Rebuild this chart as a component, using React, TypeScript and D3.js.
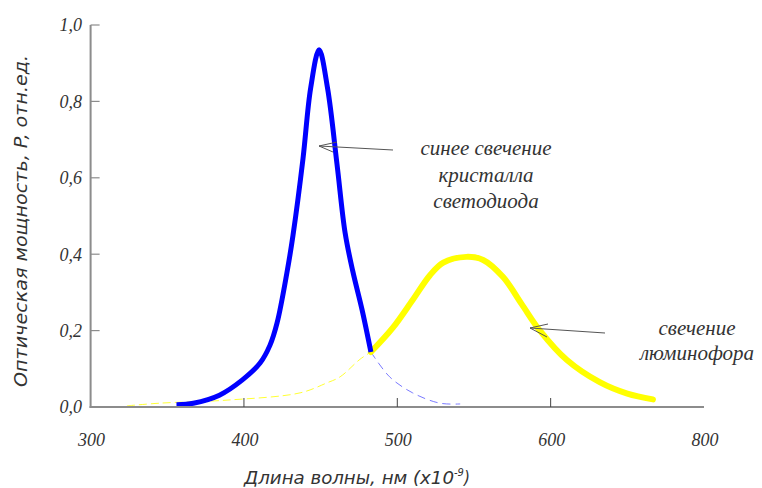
import React from "react";
import * as d3 from "d3";

// ---- data (wavelength nm, relative power) ----
const blueSolidX = [356, 367, 384, 399, 410.5, 417, 421.6, 428, 432, 438.5, 443.5, 449, 454.5, 460.7, 466, 471, 477, 482.8];
const blueSolidY = [0.006, 0.01, 0.031, 0.071, 0.115, 0.162, 0.22, 0.351, 0.45, 0.65, 0.835, 0.935, 0.835, 0.635, 0.455, 0.355, 0.255, 0.144];
const blueTailX = [482.8, 495, 510, 527.8, 541];
const blueTailY = [0.144, 0.079, 0.037, 0.01, 0.008];
const yellowTailX = [323.7, 345, 389, 436.6, 454, 462.7, 475.7, 482.8];
const yellowTailY = [0.003, 0.01, 0.018, 0.037, 0.063, 0.079, 0.125, 0.144];
const yellowSolidX = [482.8, 497, 510, 521.3, 530, 545, 556, 569, 581, 593, 610.6, 632, 650, 666.7];
const yellowSolidY = [0.144, 0.207, 0.28, 0.345, 0.378, 0.393, 0.385, 0.34, 0.27, 0.2, 0.123, 0.065, 0.035, 0.02];

const xTickValues = [300, 400, 500, 600, 700];
const xTickLabels = ["300", "400", "500", "600", "800"];
const yTickValues = [0, 0.2, 0.4, 0.6, 0.8, 1.0];
const yTickLabels = ["0,0", "0,2", "0,4", "0,6", "0,8", "1,0"];

const yTitle = "Оптическая мощность, P, отн.ед.";
const xTitleMain = "Длина волны, нм (x10";
const xTitleExp = "-9";
const annBlue = ["синее свечение", "кристалла", "светодиода"];
const annYellow = ["свечение", "люминофора"];

const W = 762;
const H = 488;
const x = d3.scaleLinear().domain([300, 700]).range([90.6, 704]);
const y = d3.scaleLinear().domain([0, 1]).range([407, 25]);

const zip = (xs: number[], ys: number[]) => xs.map((v, i) => [v, ys[i]] as [number, number]);
const line = d3
  .line<[number, number]>()
  .x((d) => x(d[0]))
  .y((d) => y(d[1]))
  .curve(d3.curveCatmullRom.alpha(0.5));

const serif = "'Liberation Serif', 'DejaVu Serif', serif";
const sansNarrow = "'Liberation Sans Narrow', 'DejaVu Sans Condensed', 'DejaVu Sans', sans-serif";

export default function App() {
  const axisColor = "#8c8c8c";
  return (
    <svg width={W} height={H} style={{ position: "absolute", left: 0, top: 0, background: "#fff" }}>
      {/* curves */}
      <path d={line(zip(yellowTailX, yellowTailY)) || ""} fill="none" stroke="#ffff33" strokeWidth={1} strokeDasharray="8,4" />
      <path d={line(zip(blueTailX, blueTailY)) || ""} fill="none" stroke="#7a7aff" strokeWidth={1} strokeDasharray="8,5" />
      <path d={line(zip(yellowSolidX, yellowSolidY)) || ""} fill="none" stroke="#ffff00" strokeWidth={6} strokeLinecap="round" strokeLinejoin="round" />
      <path d={line(zip(blueSolidX, blueSolidY)) || ""} fill="none" stroke="#0000ff" strokeWidth={5} strokeLinecap="butt" strokeLinejoin="round" />

      {/* axes */}
      <line x1={x(300)} x2={x(300)} y1={y(1)} y2={y(0) + 1} stroke={axisColor} strokeWidth={2} />
      <line x1={x(300) - 1} x2={x(700)} y1={y(0)} y2={y(0)} stroke={axisColor} strokeWidth={2} />
      {yTickValues.map((v, i) => (
        <g key={"y" + i}>
          <line x1={x(300)} x2={x(300) + 9} y1={y(v)} y2={y(v)} stroke={axisColor} strokeWidth={1.2} />
          <text x={82} y={y(v)} dy="0.35em" textAnchor="end" fontFamily={serif} fontStyle="italic" fontSize={18} fill="#333">
            {yTickLabels[i]}
          </text>
        </g>
      ))}
      {xTickValues.map((v, i) => (
        <g key={"x" + i}>
          {i > 0 && i < xTickValues.length - 1 && (
            <line x1={x(v)} x2={x(v)} y1={y(0)} y2={y(0) - 9} stroke="#444" strokeWidth={1} />
          )}
          <text x={x(v) + 1} y={440} dy="0.35em" textAnchor="middle" fontFamily={serif} fontStyle="italic" fontSize={18} fill="#333">
            {xTickLabels[i]}
          </text>
        </g>
      ))}

      {/* axis titles */}
      <text
        transform="translate(27,221) rotate(-90)"
        textAnchor="middle"
        fontFamily={sansNarrow}
        fontStyle="italic"
        fontSize={17}
        fill="#333"
        textLength={332}
        lengthAdjust="spacingAndGlyphs"
      >
        {yTitle}
      </text>
      <text x={244} y={484} fontFamily={sansNarrow} fontStyle="italic" fontSize={17} fill="#333">
        <tspan textLength={210} lengthAdjust="spacingAndGlyphs">{xTitleMain}</tspan>
        <tspan fontSize={11} dy={-8}>{xTitleExp}</tspan>
        <tspan dy={8}>)</tspan>
      </text>

      {/* annotations */}
      <g stroke="#555" strokeWidth={1} fill="none">
        <line x1={393} y1={150} x2={319} y2={146} />
        <line x1={319} y1={146} x2={337} y2={142} />
        <line x1={319} y1={146} x2={333} y2={152} />
        <line x1={605} y1={333} x2={530} y2={328} />
        <line x1={530} y1={328} x2={548} y2={324} />
        <line x1={530} y1={328} x2={547} y2={337} />
      </g>
      {annBlue.map((t, i) => (
        <text key={"ab" + i} x={486} y={155 + i * 26.5} textAnchor="middle" fontFamily={serif} fontStyle="italic" fontSize={21} fill="#333">
          {t}
        </text>
      ))}
      {annYellow.map((t, i) => (
        <text key={"ay" + i} x={697} y={335 + i * 25} textAnchor="middle" fontFamily={serif} fontStyle="italic" fontSize={21} fill="#333">
          {t}
        </text>
      ))}
    </svg>
  );
}
